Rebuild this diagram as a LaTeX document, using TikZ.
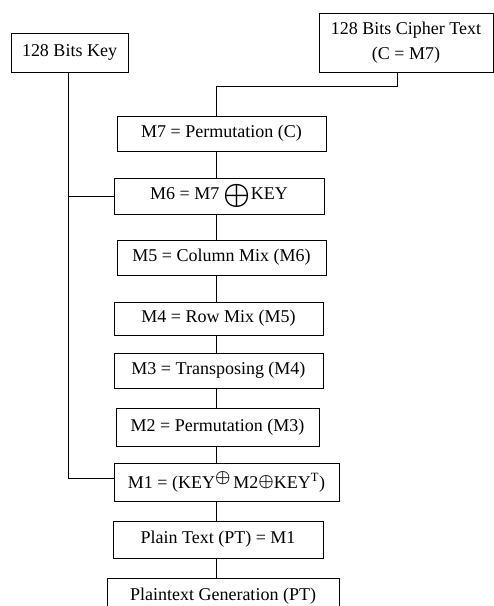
\documentclass[tikz,border=0pt]{standalone}
\usepackage{fontspec}
\usepackage{graphicx}
\setmainfont{Liberation Serif}
\newcommand{\bigxor}{\raisebox{-0.2em}{\scalebox{1.75}{\boldmath$\oplus$}}}
\newcommand{\smxor}{{\boldmath$\oplus$}}
\begin{document}
\begin{tikzpicture}[x=1pt,y=-1pt,
  box/.style={draw, line width=0.8pt, inner sep=0pt, align=center,
    font=\fontsize{18}{25}\selectfont},
  conn/.style={line width=0.8pt}]
\useasboundingbox (0,0) rectangle (494,606);
\clip (0,0) rectangle (494,606);
\node[box, minimum width=117pt, minimum height=39pt] (key) at (69.5,52.5) {128 Bits Key};
\node[box, minimum width=174pt, minimum height=59pt] (cipher) at (406,42.5) {128 Bits Cipher Text\\(C = M7)};
\node[box, minimum width=209pt, minimum height=35pt] (m7) at (221.5,133.5) {M7 = Permutation (C)};
\node[box, minimum width=210pt, minimum height=36pt] (m6) at (219,196) {M6 = M7 \bigxor KEY};
\node[box, minimum width=209pt, minimum height=35pt] (m5) at (221.5,257.5) {M5 = Column Mix (M6)};
\node[box, minimum width=209pt, minimum height=33pt] (m4) at (218.5,318.5) {M4 = Row Mix (M5)};
\node[box, minimum width=209pt, minimum height=35pt] (m3) at (218.5,370.5) {M3 = Transposing (M4)};
\node[box, minimum width=203pt, minimum height=38pt] (m2) at (217.5,427) {M2 = Permutation (M3)};
\node[box, minimum width=225pt, minimum height=38pt] (m1) at (226.5,482) {M1 = (KEY\raisebox{0.3em}{\smxor}\,M2\raisebox{0.12em}{\smxor}KEY$^{\mathrm{T}}$)};
\node[box, minimum width=210pt, minimum height=37pt] (pt) at (218,539.5) {Plain Text (PT) = M1};
\node[box, minimum width=232pt, minimum height=37pt] (gen) at (223,596.5) {Plaintext Generation (PT)};
\coordinate (spine) at (216,0);
\coordinate (ckey) at (68,72);
\coordinate (ccip) at (397,72);
% cipher to M7
\draw[conn] (ccip) -- (397,86) -- (216,86) -- (m7.north -| spine);
% spine
\draw[conn] (m7.south -| spine) -- (m6.north -| spine);
\draw[conn] (m6.south -| spine) -- (m5.north -| spine);
\draw[conn] (m5.south -| spine) -- (m4.north -| spine);
\draw[conn] (m4.south -| spine) -- (m3.north -| spine);
\draw[conn] (m3.south -| spine) -- (m2.north -| spine);
\draw[conn] (m2.south -| spine) -- (m1.north -| spine);
\draw[conn] (m1.south -| spine) -- (pt.north -| spine);
\draw[conn] (pt.south -| spine) -- (gen.north -| spine);
% key line
\draw[conn] (ckey) |- ([yshift=4pt]m1.west);
\draw[conn] (ckey |- m6.west) -- (m6.west);
\end{tikzpicture}
\end{document}
